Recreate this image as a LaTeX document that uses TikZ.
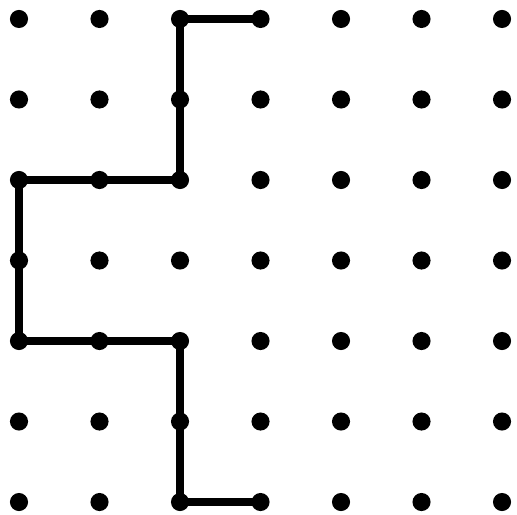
\documentclass[tikz,border=0pt]{standalone}
\usetikzlibrary{positioning}

\begin{document}
\begin{tikzpicture}[
    x=2cm, y=2cm,
    dot/.style={circle, fill=black, inner sep=0pt, minimum size=0.45cm},
    route/.style={line width=5.6pt, black, line join=miter},
]
\useasboundingbox (-0.236,-0.149) rectangle (6.186,6.236);

% Grid of dots: d-<column>-<row>, row 0 at the bottom
\foreach \i in {0,...,6}
  \foreach \j in {0,...,6}
    \node[dot] (d-\i-\j) at (\i,\j) {};

% The path through the grid
\draw[route] (d-3-6.center) -- (d-2-6.center) -- (d-2-4.center) -- (d-0-4.center)
  -- (d-0-2.center) -- (d-2-2.center) -- (d-2-0.center) -- (d-3-0.center);
\end{tikzpicture}
\end{document}
